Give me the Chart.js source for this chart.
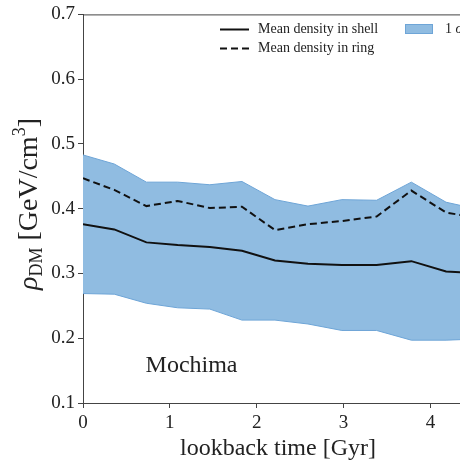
<!DOCTYPE html>
<html>
<head>
<meta charset="utf-8">
<script src="https://cdn.jsdelivr.net/npm/chart.js@4.4.1/dist/chart.umd.min.js"></script>
<style>
body{margin:0;background:#fff;}
#caja{width:460px;height:462px;}
</style>
</head>
<body>
<div id="caja"><canvas id="grafico" width="460" height="462"></canvas></div>
<script>
const tiempo=[0,0.36,0.73,1.09,1.46,1.83,2.21,2.59,2.98,3.38,3.78,4.18,4.58];
const capa=[0.376,0.368,0.348,0.344,0.341,0.335,0.320,0.315,0.313,0.313,0.319,0.303,0.300];
const anillo=[0.447,0.429,0.404,0.412,0.401,0.403,0.367,0.376,0.381,0.388,0.428,0.394,0.385];
const sigmaSup=[0.483,0.469,0.441,0.441,0.437,0.442,0.414,0.404,0.414,0.413,0.441,0.410,0.398];
const sigmaInf=[0.269,0.268,0.254,0.247,0.245,0.228,0.228,0.222,0.212,0.212,0.197,0.197,0.199];
const ticksX=[0,1,2,3,4];
const ticksY=[0.1,0.2,0.3,0.4,0.5,0.6,0.7];
const etiquetas=["Mean density in shell","Mean density in ring","1 σ"];
const galaxia="Mochima";

const azul="rgb(144,188,225)";
const borde="rgb(110,165,215)";
const serif="'Liberation Serif', serif";

function puntos(ys){
return tiempo.map((t,i)=>({x:t,y:ys[i]}));
}

const extras={
id:"extras",
afterDraw(chart){
const c=chart.ctx, a=chart.chartArea, sx=chart.scales.x, sy=chart.scales.y;
c.save();

c.strokeStyle="#444";
c.lineWidth=1;
c.beginPath();
c.moveTo(a.left,a.top+0.5);
c.lineTo(a.right,a.top+0.5);
c.stroke();

c.fillStyle="#222";
c.textBaseline="middle";
c.font="14px "+serif;

c.strokeStyle="#111";
c.lineWidth=2;
c.beginPath();c.moveTo(220,29.5);c.lineTo(249,29.5);c.stroke();
c.setLineDash([7,4]);
c.beginPath();c.moveTo(220,48.5);c.lineTo(249,48.5);c.stroke();
c.setLineDash([]);
c.fillText(etiquetas[0],258,29.5);
c.fillText(etiquetas[1],258,48.5);

c.fillStyle=azul;
c.fillRect(405,24,28,10);
c.strokeStyle=borde;
c.lineWidth=1;
c.strokeRect(405.5,24.5,27,9);
c.fillStyle="#222";
c.fillText("1 ",445,29.5);
c.font="italic 14px "+serif;
c.fillText("σ",445+c.measureText("1 ").width,29.5);

c.font="24px "+serif;
c.textBaseline="alphabetic";
c.fillText(galaxia,sx.getPixelForValue(0.72),sy.getPixelForValue(0.148));

c.textAlign="center";
c.fillText("lookback time [Gyr]",278,455);

c.translate(37,204);
c.rotate(-Math.PI/2);
c.textAlign="left";
const partes=[
{t:"ρ",f:"italic 28px "+serif,dy:0},
{t:"DM",f:"18px "+serif,dy:5},
{t:" [GeV/cm",f:"28px "+serif,dy:0},
{t:"3",f:"18px "+serif,dy:-12},
{t:"]",f:"28px "+serif,dy:0}
];
let total=0;
partes.forEach(p=>{c.font=p.f;p.w=c.measureText(p.t).width;total+=p.w;});
let x=-total/2;
partes.forEach(p=>{c.font=p.f;c.fillText(p.t,x,p.dy);x+=p.w;});

c.restore();
}
};

new Chart(document.getElementById("grafico"),{
type:"line",
data:{
datasets:[
{label:etiquetas[0],data:puntos(capa),borderColor:"#111",borderWidth:2,pointRadius:0,fill:false,order:0},
{label:etiquetas[1],data:puntos(anillo),borderColor:"#111",borderWidth:2,borderDash:[7,4],pointRadius:0,fill:false,order:0},
{label:"inf",data:puntos(sigmaInf),borderColor:borde,borderWidth:1,pointRadius:0,fill:false,order:1},
{label:etiquetas[2],data:puntos(sigmaSup),borderColor:borde,borderWidth:1,pointRadius:0,backgroundColor:azul,fill:"-1",order:1}
]
},
options:{
responsive:false,
animation:false,
events:[],
layout:{padding:{top:12,right:0,left:0,bottom:0}},
plugins:{legend:{display:false},tooltip:{enabled:false}},
scales:{
x:{
type:"linear",
min:0,
max:4.34,
afterBuildTicks:s=>{s.ticks=ticksX.map(v=>({value:v}));},
afterFit:s=>{s.height=59;},
ticks:{color:"#222",font:{family:serif,size:19},padding:4,maxRotation:0,callback:v=>String(v)},
grid:{drawOnChartArea:false,drawTicks:true,tickLength:5,color:"#444"},
border:{color:"#444",width:1}
},
y:{
min:0.1,
max:0.7,
afterBuildTicks:s=>{s.ticks=ticksY.map(v=>({value:v}));},
afterFit:s=>{s.width=83;},
ticks:{color:"#222",font:{family:serif,size:19},padding:3,callback:v=>v.toFixed(1)},
grid:{drawOnChartArea:false,drawTicks:true,tickLength:5,color:"#444"},
border:{color:"#444",width:1}
}
}
},
plugins:[extras]
});
</script>
</body>
</html>
